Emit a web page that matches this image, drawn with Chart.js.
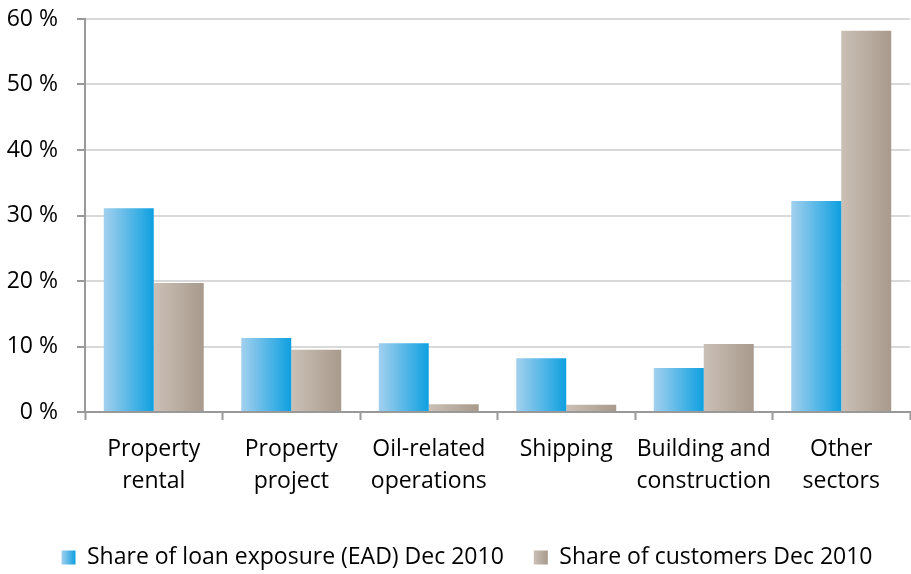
<!DOCTYPE html>
<html>
<head>
<meta charset="utf-8">
<script src="https://cdn.jsdelivr.net/npm/chart.js@4"></script>
<style>
  body { margin: 0; background: #fff; }
  #wrap { width: 911px; height: 574px; }
</style>
</head>
<body>
<div id="wrap"><canvas id="myChart"></canvas></div>
<script>
// data
const categories = [
    ["Property", "rental"],
    ["Property", "project"],
    ["Oil-related", "operations"],
    ["Shipping"],
    ["Building and", "construction"],
    ["Other", "sectors"]
];
const loanShare = [31.1, 11.3, 10.5, 8.2, 6.7, 32.2];
const customerShare = [19.7, 9.5, 1.2, 1.1, 10.4, 58.2];
const seriesNames = ["Share of loan exposure (EAD) Dec 2010", "Share of customers Dec 2010"];
const yTickValues = [0, 10, 20, 30, 40, 50, 60];

// gradient stops, left -> right
const blueStops = ["#a3d0ee", "#0ea0e0"];
const beigeStops = ["#cbc0b6", "#a89a8c"];
const catPct = 0.727;
const font = "'Open Sans', Lato, sans-serif";

function barGradient(stops, side) {
    return function (context) {
        const chart = context.chart;
        const x = chart.scales.x;
        if (context.dataIndex === undefined || !x || !chart.chartArea) return stops[1];
        const center = x.getPixelForValue(context.dataIndex);
        const barW = (x.width / categories.length) * catPct / 2;
        const left = side === 0 ? center - barW : center;
        const g = chart.ctx.createLinearGradient(left, 0, left + barW, 0);
        g.addColorStop(0, stops[0]);
        g.addColorStop(1, stops[1]);
        return g;
    };
}

// nudge the legend a bit right, and give its boxes the bar gradients
const legendTweaks = {
    id: 'legendTweaks',
    afterLayout(chart) {
        if (chart.legend) chart.legend.left += 24;
    },
    beforeDraw(chart) {
        const legend = chart.legend;
        if (!legend || !legend.legendHitBoxes) return;
        const all = [blueStops, beigeStops];
        legend.legendItems.forEach(function (item, i) {
            const hb = legend.legendHitBoxes[i];
            if (!hb) return;
            const g = chart.ctx.createLinearGradient(hb.left, 0, hb.left + 14, 0);
            g.addColorStop(0, all[i][0]);
            g.addColorStop(1, all[i][1]);
            item.fillStyle = g;
        });
    }
};

new Chart("myChart", {
    type: "bar",
    data: {
        labels: categories,
        datasets: [{
            label: seriesNames[0],
            data: loanShare,
            backgroundColor: barGradient(blueStops, 0),
            borderWidth: 0,
            barPercentage: 1,
            categoryPercentage: catPct
        }, {
            label: seriesNames[1],
            data: customerShare,
            backgroundColor: barGradient(beigeStops, 1),
            borderWidth: 0,
            barPercentage: 1,
            categoryPercentage: catPct
        }]
    },
    plugins: [legendTweaks],
    options: {
        responsive: true,
        maintainAspectRatio: false,
        animation: false,
        layout: { padding: { top: 19, right: 1, left: 0, bottom: -5 } },
        plugins: {
            tooltip: { enabled: false },
            legend: {
                position: "bottom",
                labels: {
                    boxWidth: 14,
                    boxHeight: 14,
                    padding: 30,
                    color: "#000",
                    font: { family: font, size: 23 }
                }
            }
        },
        scales: {
            x: {
                afterFit: function (scale) { scale.height = 104; },
                grid: {
                    drawOnChartArea: false,
                    drawTicks: true,
                    tickLength: 8,
                    tickColor: "#999",
                    tickWidth: 2
                },
                border: { color: "#999", width: 2 },
                ticks: {
                    color: "#000",
                    padding: 13,
                    autoSkip: false,
                    maxRotation: 0,
                    font: { family: font, size: 23, lineHeight: 1.39 }
                }
            },
            y: {
                min: 0,
                max: 60,
                afterFit: function (scale) {
                    scale.width = 85;
                    scale.paddingTop = 0;
                    scale.paddingBottom = 0;
                },
                afterBuildTicks: function (scale) {
                    scale.ticks = yTickValues.map(function (v) { return { value: v }; });
                },
                grid: {
                    color: "#d9d9d9",
                    lineWidth: 2,
                    borderDash: [5, 3],
                    tickLength: 8,
                    tickColor: "#999",
                    tickWidth: 2,
                    tickBorderDash: []
                },
                border: { color: "#999", width: 2 },
                ticks: {
                    color: "#000",
                    padding: 19,
                    font: { family: font, size: 23 },
                    callback: function (v) { return v + " %"; }
                }
            }
        }
    }
});
</script>
</body>
</html>
